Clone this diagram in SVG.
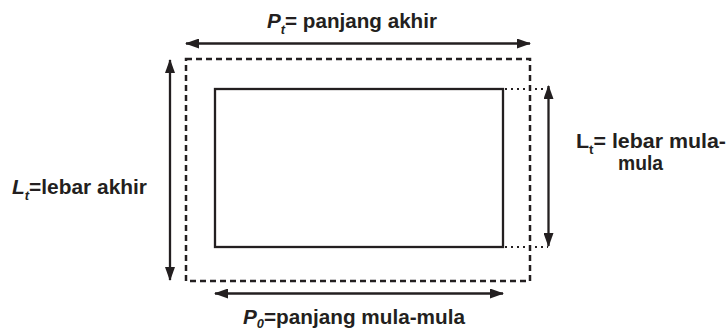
<svg xmlns="http://www.w3.org/2000/svg" width="727" height="332" viewBox="0 0 727 332">
<style>
.lbl{font-family:"Liberation Sans",Arial,sans-serif;font-weight:bold;font-size:21px;fill:#231f20}
.it{font-style:italic}
.sub{font-size:13px;font-style:italic}
.arr{stroke:#231f20;stroke-width:2.3;fill:none;marker-start:url(#ah);marker-end:url(#ah)}
</style>
<defs>
<marker id="ah" viewBox="0 0 14 10" refX="13" refY="5" markerWidth="14" markerHeight="10" markerUnits="userSpaceOnUse" orient="auto-start-reverse">
<path d="M0,0 L14,5 L0,10 z" fill="#231f20"/>
</marker>
</defs>
<rect width="727" height="332" fill="#fff"/>
<g id="outer-rect">
<rect x="186" y="59" width="344" height="222" fill="none" stroke="#231f20" stroke-width="2.5" stroke-dasharray="6,4"/>
</g>
<g id="inner-rect">
<rect x="215" y="89" width="288" height="158" fill="none" stroke="#231f20" stroke-width="2.3"/>
</g>
<g id="connectors">
<line class="arr" x1="186" y1="43.5" x2="530" y2="43.5"/>
<line class="arr" x1="170" y1="60" x2="170" y2="280"/>
<line class="arr" x1="215" y1="293.5" x2="503" y2="293.5"/>
<line class="arr" x1="548.5" y1="86" x2="548.5" y2="246"/>
<line x1="505" y1="89" x2="548" y2="89" stroke="#231f20" stroke-width="2" stroke-dasharray="2,4"/>
<line x1="505" y1="247" x2="548" y2="247" stroke="#231f20" stroke-width="2" stroke-dasharray="2,4"/>
</g>
<g id="label-top">
<text class="lbl" x="267" y="28" textLength="170" lengthAdjust="spacingAndGlyphs"><tspan class="it">P</tspan><tspan class="sub" dy="6">t</tspan><tspan dy="-6">= panjang akhir</tspan></text>
</g>
<g id="label-left">
<text class="lbl" x="12" y="194" textLength="135" lengthAdjust="spacingAndGlyphs"><tspan class="it">L</tspan><tspan class="sub" dy="6">t</tspan><tspan dy="-6">=lebar akhir</tspan></text>
</g>
<g id="label-bottom">
<text class="lbl" x="243" y="324" textLength="222" lengthAdjust="spacingAndGlyphs"><tspan class="it">P</tspan><tspan class="sub" dy="4">0</tspan><tspan dy="-4">=panjang mula-mula</tspan></text>
</g>
<g id="label-right">
<text class="lbl" x="576" y="148" textLength="150" lengthAdjust="spacingAndGlyphs">L<tspan font-size="13" dy="6">t</tspan><tspan dy="-6">= lebar mula-</tspan></text>
<text class="lbl" x="618" y="170" textLength="45" lengthAdjust="spacingAndGlyphs">mula</text>
</g>
</svg>
